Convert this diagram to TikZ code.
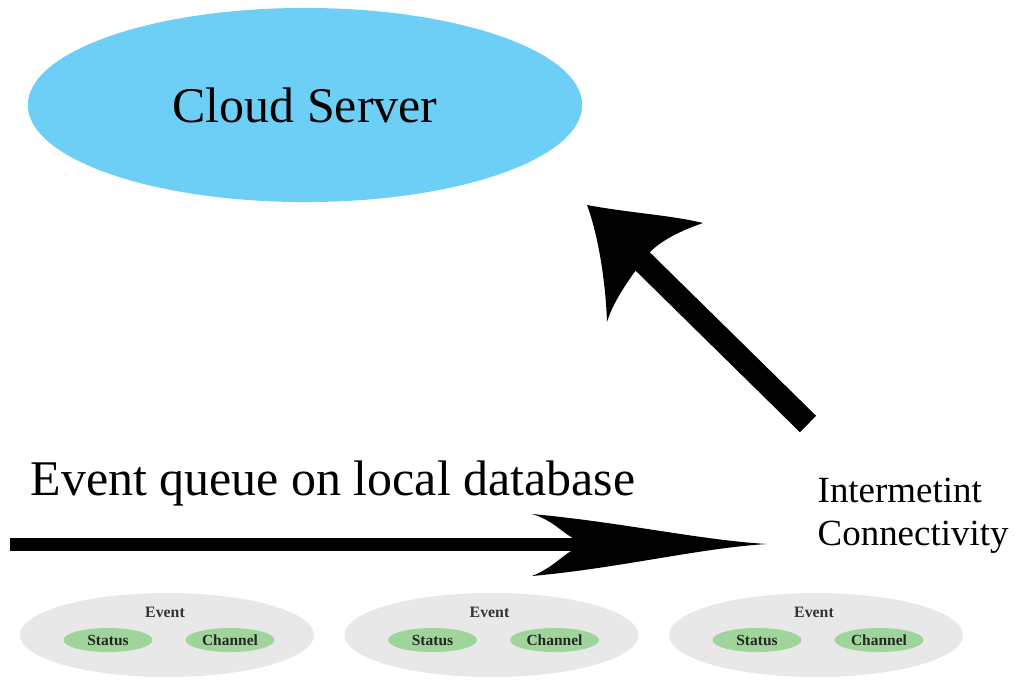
\documentclass[tikz,border=0pt]{standalone}
\usepackage{fontspec}
\setmainfont{Liberation Serif}
\usetikzlibrary{shapes.geometric}

\definecolor{cloudblue}{HTML}{6DCFF6}
\definecolor{eventgray}{HTML}{E8E8E8}
\definecolor{fieldgreen}{HTML}{9FD59B}

\tikzset{
  cloudnode/.style={ellipse, fill=cloudblue, inner sep=0pt,
    minimum width=5.54cm, minimum height=1.94cm,
    font=\fontsize{14.2pt}{17pt}\selectfont},
  eventnode/.style={ellipse, fill=eventgray, inner sep=0pt,
    minimum width=2.94cm, minimum height=0.84cm},
  fieldnode/.style={ellipse, fill=fieldgreen, inner sep=0pt,
    minimum width=0.89cm, minimum height=0.24cm,
    font=\fontsize{4.4pt}{5pt}\selectfont\bfseries, text=black!85},
  eventlabel/.style={inner sep=0pt, font=\fontsize{4.5pt}{5pt}\selectfont\bfseries, text=black!80},
  biglabel/.style={inner sep=0pt, anchor=base west, font=\fontsize{14.2pt}{17pt}\selectfont},
  sidelabel/.style={inner sep=0pt, anchor=base west, align=left,
    font=\fontsize{10.5pt}{12.2pt}\selectfont},
  shaft/.style={line width=#1, line cap=butt},
}

\begin{document}
\begin{tikzpicture}[x=0.01cm, y=-0.01cm]
  \useasboundingbox (0,0) rectangle (1016,681);

  % server
  \node[cloudnode] (cloud) at (305,105) {Cloud Server};

  % labels (base anchor of a two-line node sits on its last line)
  \node[biglabel] (queue) at (30,495) {Event queue on local database};
  \node[sidelabel] (link) at (817,545) {Intermetint\\Connectivity};

  % queued events
  \foreach \c [count=\i] in {167,491.5,816} {
    \node[eventnode] (ev\i) at (\c,635) {};
    \node[eventlabel] (evl\i) at (\c-2,612) {Event};
    \node[fieldnode] (st\i) at (\c-59,640) {Status};
    \node[fieldnode] (ch\i) at (\c+63,640) {Channel};
  }

  % queue arrow
  \coordinate (qtail) at (10,544);
  \coordinate (qneck) at (580,544);
  \coordinate (qtip) at (767,544);
  \draw[shaft=0.13cm] (qtail) -- (qneck);
  \begin{scope}[shift={(qtip)}]
    \fill (0,0) .. controls (-67,-4) and (-147,-22) .. (-235,-30)
      .. controls (-215,-24) and (-205,-12) .. (-195,-6.5)
      -- (-195,6.5)
      .. controls (-205,12) and (-215,24) .. (-235,32)
      .. controls (-147,24) and (-67,4) .. (0,0) -- cycle;
  \end{scope}

  % upload arrow
  \coordinate (utail) at (808,424);
  \coordinate (uneck) at (630,249);
  \coordinate (utip) at (587,205);
  \draw[shaft=0.23cm] (utail) -- (uneck);
  \fill (utip) .. controls (630,213) and (670,215) .. (703,223)
    .. controls (680,231) and (662,240) .. (650,252)
    -- (636,270)
    .. controls (625,285) and (612,305) .. (607,322)
    .. controls (606,290) and (600,240) .. (utip) -- cycle;
\end{tikzpicture}
\end{document}
